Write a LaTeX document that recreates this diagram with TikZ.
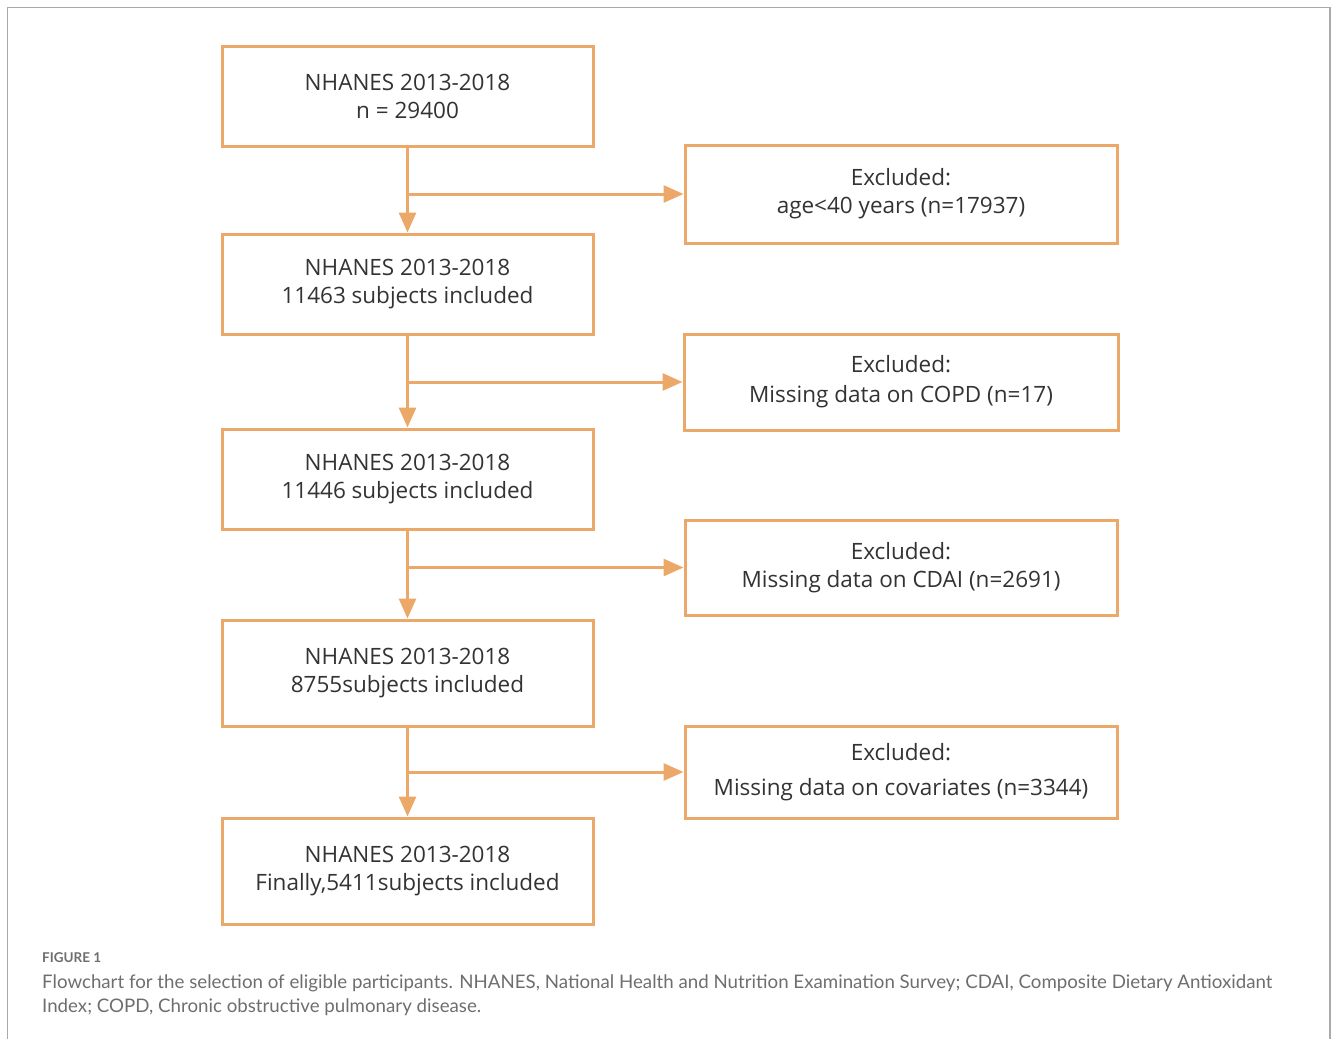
\documentclass[tikz,border=0pt]{standalone}
\usepackage{fontspec}
\setmainfont{Open Sans}
\newfontfamily\capfont{Lato}
\usetikzlibrary{arrows.meta,calc}
\definecolor{orng}{RGB}{236,168,104}
\definecolor{txt}{RGB}{51,51,51}
\definecolor{frame}{RGB}{170,170,170}
\definecolor{capc}{RGB}{110,110,110}
\tikzset{
  box/.style={draw=orng, line width=3pt, fill=white, align=center, text=txt,
    font=\fontsize{22.5}{28}\selectfont, inner sep=0pt},
  flow/.style={draw=orng, line width=3pt, -{Triangle[length=20pt,width=17pt]}},
}
\begin{document}
\begin{tikzpicture}[x=1pt,y=-1pt]
\useasboundingbox (0,0) rectangle (1331,1039);
% outer frame
\draw[frame, line width=1.5pt] (7.5,1039) -- (7.5,7.5) -- (1330,7.5) -- (1330,1039);
% left column
\node[box, minimum width=371pt, minimum height=100pt] (a1) at (407.5,96) {\rule{0pt}{4pt}NHANES 2013-2018\\n = 29400};
\node[box, minimum width=371pt, minimum height=100pt] (a2) at (407.5,284) {\rule{0pt}{4pt}NHANES 2013-2018\\11463 subjects included};
\node[box, minimum width=371pt, minimum height=100pt] (a3) at (407.5,479) {\rule{0pt}{4pt}NHANES 2013-2018\\11446 subjects included};
\node[box, minimum width=371pt, minimum height=106pt] (a4) at (407.5,673) {\rule{0pt}{4pt}NHANES 2013-2018\\8755subjects included};
\node[box, minimum width=371pt, minimum height=106pt] (a5) at (407.5,871) {\rule{0pt}{4pt}NHANES 2013-2018\\Finally,5411subjects included};
% right column
\node[box, minimum width=432pt, minimum height=98pt] (r1) at (901,194) {\rule{0pt}{8pt}Excluded:\\age<40 years (n=17937)};
\node[box, minimum width=434pt, minimum height=96pt] (r2) at (901,382) {Excluded:\\[2pt]Missing data on COPD (n=17)};
\node[box, minimum width=432pt, minimum height=95pt] (r3) at (901,567.5) {\rule{0pt}{7pt}Excluded:\\Missing data on CDAI (n=2691)};
\node[box, minimum width=432pt, minimum height=92pt] (r4) at (901,772) {Excluded:\\[7pt]Missing data on covariates (n=3344)};
% connectors
\draw[flow] (a1.south) -- (a2.north);
\draw[flow] (a2.south) -- (a3.north);
\draw[flow] (a3.south) -- (a4.north);
\draw[flow] (a4.south) -- (a5.north);
\draw[flow] (a1.south |- r1.west) -- (r1.west);
\draw[flow] (a2.south |- r2.west) -- (r2.west);
\draw[flow] (a3.south |- r3.west) -- (r3.west);
\draw[flow] (a4.south |- r4.west) -- (r4.west);
% caption
\node[anchor=west, inner sep=0pt, text=capc, font=\capfont\bfseries\fontsize{13.5}{15}\selectfont] (fig) at (42,958) {FIGURE 1};
\node[anchor=north west, inner sep=0pt, align=left, text=capc, font=\capfont\fontsize{18.7}{24}\selectfont] (cap) at (42,975)
{Flowchart for the selection of eligible participants. NHANES, National Health and Nutrition Examination Survey; CDAI, Composite Dietary Antioxidant\\Index; COPD, Chronic obstructive pulmonary disease.};
\end{tikzpicture}
\end{document}
